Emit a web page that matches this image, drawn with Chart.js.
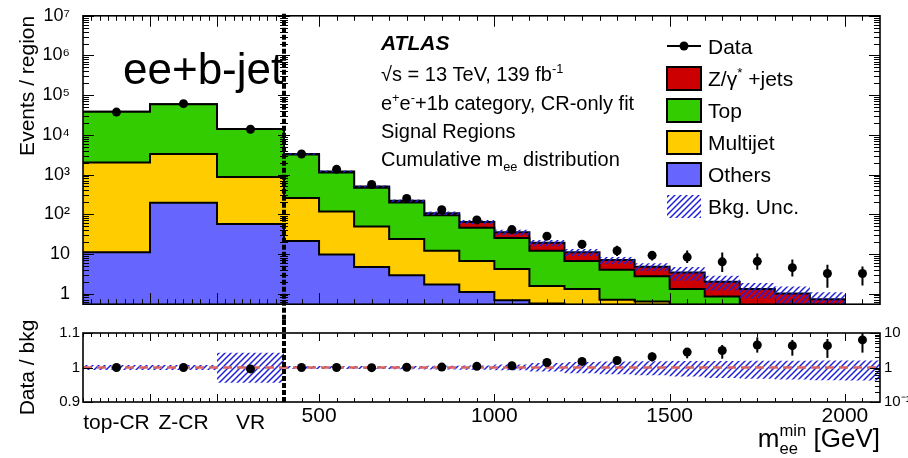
<!DOCTYPE html>
<html><head><meta charset="utf-8">
<script src="https://cdn.jsdelivr.net/npm/chart.js@4/dist/chart.umd.min.js"></script>
<style>
html,body{margin:0;padding:0;background:#fff;}
#wrap{position:relative;width:908px;height:458px;overflow:hidden;background:#fff;}
#main{position:absolute;left:0;top:0;width:908px;height:320px;}
#ratio{position:absolute;left:0;top:320px;width:908px;height:138px;}
</style></head><body>
<div id="wrap"><canvas id="main" width="908" height="320"></canvas><canvas id="ratio" width="908" height="138"></canvas></div>
<script>
// ---------------- data ----------------
const regions = ['top-CR', 'Z-CR', 'VR'];
const massEdges = [400, 500, 600, 700, 800, 900, 1000, 1100, 1200, 1300, 1400, 1500, 1600, 1700, 1800, 1900, 2000, 2100];
const massTicks = [500, 1000, 1500, 2000];

// control / validation regions (events per region)
const regionOthers   = [11, 195, 57];
const regionMultijet = [1990, 3100, 810];
const regionTop      = [36000, 55700, 13100];
const regionZjets    = [0, 0, 0];
const regionData     = [37500, 61000, 13800];

// cumulative m_ee bins 400..2000 (background)
const massOthers   = [21, 9.7, 4.7, 2.9, 1.7, 1.1, 0.68, 0.56, 0.4, 0.3, 0.2, 0.15, 0.1, 0.08, 0.06, 0.04];
const massMultijet = [236, 108, 44, 21, 10.3, 5.5, 3.5, 1.0, 0.9, 0.4, 0.43, 0.3, 0.2, 0.12, 0.09, 0.06];
const massTop      = [2940, 1010, 416, 174, 82, 39, 21, 10.4, 5.3, 3.3, 2.1, 0.85, 0.55, 0.25, 0.15, 0.1];
const massZjets    = [100, 70, 35, 20, 12, 18, 10, 7, 4.4, 3, 2.0, 2.1, 1.15, 0.85, 0.7, 0.52];
const massBkgUnc   = [0.04, 0.05, 0.06, 0.08, 0.1, 0.12, 0.16, 0.18, 0.2, 0.2, 0.22, 0.38, 0.4, 0.42, 0.5, 0.5];

// data, bins 400..2100
const massData   = [3300, 1350, 560, 250, 130, 72, 41, 28, 17.5, 12, 9.2, 8.3, 6.3, 6.5, 4.5, 3.2, 3.2];
const massDataHi = [3360, 1390, 585, 266, 142, 81, 48, 34, 22, 16, 11.8, 12.2, 10.9, 10.3, 7.2, 5.3, 4.8];
const massDataLo = [3240, 1315, 537, 235, 119, 64, 35, 23, 13.5, 8.8, 6.8, 5.9, 3.5, 4.0, 2.7, 1.4, 1.6];

// ratio panel
const regionRatio  = [1.0, 1.0, 0.996];
const regionBandHi = [1.007, 1.007, 1.043];
const regionBandLo = [0.993, 0.993, 0.956];
const massRatio   = [1.0, 1.0, 0.99, 1.02, 1.03, 1.08, 1.12, 1.4, 1.5, 1.6, 2.05, 2.8, 3.1, 4.5, 4.3, 4.3, 6.3];
const massRatioHi = [1.02, 1.03, 1.04, 1.06, 1.08, 1.12, 1.18, 1.6, 1.75, 1.97, 2.7, 3.6, 4.5, 7.5, 6.3, 6.7, 10];
const massRatioLo = [0.98, 0.97, 0.95, 0.98, 0.98, 0.98, 0.95, 1.2, 1.25, 1.3, 1.5, 1.85, 1.8, 2.7, 2.2, 1.9, 2.7];
const massBandHi = [1.1, 1.1, 1.1, 1.11, 1.12, 1.15, 1.22, 1.35, 1.45, 1.5, 1.52, 1.54, 1.55, 1.56, 1.58, 1.6, 1.6];
const massBandLo = [0.9, 0.9, 0.9, 0.89, 0.88, 0.86, 0.83, 0.76, 0.68, 0.64, 0.6, 0.55, 0.5, 0.47, 0.45, 0.43, 0.42];

// axis tick labels
const yTickValues = [1, 10, 100, 1e3, 1e4, 1e5, 1e6, 1e7];
const yTickLabels = ['1', '10', '10²', '10³', '10⁴', '10⁵', '10⁶', '10⁷'];
const rLinTicks = [0.9, 1, 1.1];
const rLinLabels = ['0.9', '1', '1.1'];
const rLogTicks = [0.1, 1, 10];
const rLogLabels = ['10⁻¹', '1', '10'];

// ---------------- layout of the combined x scale ----------------
const REGION_SPAN = 573.3;
const XMIN = massEdges[0] - REGION_SPAN;
const XMAX = massEdges[massEdges.length - 1];
const regionEdges = [0, 1, 2, 3].map(i => XMIN + i * REGION_SPAN / 3);
const regionCenters = [0, 1, 2].map(i => XMIN + (i + 0.5) * REGION_SPAN / 3);
const massCenters = massEdges.slice(0, -1).map((e, i) => (e + massEdges[i + 1]) / 2);
const YMIN = 0.54;

const FONT = '"Liberation Sans", Arial, Helvetica, sans-serif';
Chart.defaults.font.family = FONT;
Chart.defaults.color = '#000';

function histPoints(edges, vals, close) {
  const pts = vals.map((v, i) => ({x: edges[i], y: v}));
  pts.push({x: edges[vals.length], y: vals[vals.length - 1]});
  if (close) pts.push({x: edges[vals.length], y: 1e-6});
  return pts;
}
function addArr(a, b) { return a.map((v, i) => v + b[i]); }

const bkgEdges = regionEdges.slice(0, 3).concat(massEdges.slice(0, 17));
const bkgOthers = regionOthers.concat(massOthers);
const bkgMultijet = regionMultijet.concat(massMultijet);
const bkgTop = regionTop.concat(massTop);
const bkgZjets = regionZjets.concat(massZjets);
const cumOthers = bkgOthers;
const cumMulti = addArr(cumOthers, bkgMultijet);
const cumTop = addArr(cumMulti, bkgTop);
const cumTotal = addArr(cumTop, bkgZjets);
const massTotal = cumTotal.slice(3);

function makeHatch(ctx, color) {
  const c = document.createElement('canvas');
  c.width = 6; c.height = 6;
  const g = c.getContext('2d');
  g.strokeStyle = color; g.lineWidth = 1.5;
  g.beginPath();
  g.moveTo(0, 6); g.lineTo(6, 0);
  g.moveTo(-1, 1); g.lineTo(1, -1);
  g.moveTo(5, 7); g.lineTo(7, 5);
  g.stroke();
  return ctx.createPattern(c, 'repeat');
}
const mainCtx = document.getElementById('main').getContext('2d');
const ratioCtx = document.getElementById('ratio').getContext('2d');
const hatchMain = makeHatch(mainCtx, '#2020d8');
const hatchRatio = makeHatch(ratioCtx, '#2020d8');

function fnt(size, style) { return (style || '') + ' ' + size + 'px ' + FONT; }

function richText(ctx, parts, x, y, size, style) {
  let cx = x;
  for (const p of parts) {
    const t = p[0], kind = p[1] || '';
    const small = size * 0.64;
    if (kind === '^') {
      ctx.font = fnt(small, style); ctx.fillText(t, cx, y - size * 0.42); cx += ctx.measureText(t).width;
    } else if (kind === '_') {
      ctx.font = fnt(small, style); ctx.fillText(t, cx, y + size * 0.24); cx += ctx.measureText(t).width;
    } else if (kind === '^_') {
      ctx.font = fnt(small, style);
      ctx.fillText(t, cx, y - size * 0.42);
      ctx.fillText(p[2], cx, y + size * 0.26);
      cx += Math.max(ctx.measureText(t).width, ctx.measureText(p[2]).width);
    } else {
      ctx.font = fnt(size, style); ctx.fillText(t, cx, y); cx += ctx.measureText(t).width;
    }
  }
  return cx;
}
function richWidth(ctx, parts, size, style) {
  let w = 0;
  for (const p of parts) {
    const kind = p[1] || '';
    ctx.font = fnt(kind ? size * 0.64 : size, style);
    if (kind === '^_') w += Math.max(ctx.measureText(p[0]).width, ctx.measureText(p[2]).width);
    else w += ctx.measureText(p[0]).width;
  }
  return w;
}

const errorBars = {
  id: 'errorBars',
  afterDatasetsDraw(chart) {
    const ctx = chart.ctx, a = chart.chartArea;
    ctx.save();
    ctx.beginPath(); ctx.rect(a.left, a.top, a.right - a.left, a.bottom - a.top); ctx.clip();
    ctx.strokeStyle = '#000'; ctx.lineWidth = 2;
    chart.data.datasets.forEach((ds, i) => {
      if (!ds.errHi) return;
      const ys = chart.scales[chart.getDatasetMeta(i).yAxisID];
      const xs = chart.scales.x;
      ds.data.forEach((p, j) => {
        const px = xs.getPixelForValue(p.x);
        ctx.beginPath();
        ctx.moveTo(px, ys.getPixelForValue(ds.errHi[j]));
        ctx.lineTo(px, ys.getPixelForValue(ds.errLo[j]));
        ctx.stroke();
      });
    });
    ctx.restore();
  }
};

function xTickList() {
  const list = [];
  for (let i = 0; i < 3; i++) {
    for (let k = 0; k < 8; k++) {
      list.push({v: regionEdges[i] + k * (regionEdges[i + 1] - regionEdges[i]) / 8, major: k === 0 && i > 0});
    }
  }
  for (let m = massEdges[0] + 50; m < XMAX; m += 50) list.push({v: m, major: m % 500 === 0});
  return list;
}
function drawXTicks(chart, majLen, minLen) {
  const ctx = chart.ctx, a = chart.chartArea, xs = chart.scales.x;
  ctx.beginPath();
  for (const t of xTickList()) {
    const px = Math.round(xs.getPixelForValue(t.v)) + 0.5;
    const L = t.major ? majLen : minLen;
    ctx.moveTo(px, a.bottom); ctx.lineTo(px, a.bottom - L);
    ctx.moveTo(px, a.top); ctx.lineTo(px, a.top + L);
  }
  ctx.stroke();
}
function logMinorValues(lo, hi) {
  const out = [];
  for (let e = Math.floor(Math.log10(lo)); e <= Math.ceil(Math.log10(hi)); e++) {
    for (let m = 1; m <= 9; m++) {
      const v = m * Math.pow(10, e);
      if (v >= lo && v <= hi) out.push({v, major: m === 1});
    }
  }
  return out;
}
function drawYTicks(chart, scale, list, majLen, minLen, side) {
  const ctx = chart.ctx, a = chart.chartArea;
  ctx.beginPath();
  for (const t of list) {
    const py = Math.round(scale.getPixelForValue(t.v)) + 0.5;
    const L = t.major ? majLen : minLen;
    if (side !== 'right') { ctx.moveTo(a.left, py); ctx.lineTo(a.left + L, py); }
    if (side !== 'left') { ctx.moveTo(a.right, py); ctx.lineTo(a.right - L, py); }
  }
  ctx.stroke();
}
function drawDivider(chart, y0, y1, tickList, scale) {
  const ctx = chart.ctx, xs = chart.scales.x;
  const px = xs.getPixelForValue(massEdges[0]);
  ctx.save();
  ctx.strokeStyle = '#000';
  ctx.lineWidth = 4; ctx.setLineDash([5, 2]);
  ctx.beginPath(); ctx.moveTo(px, y0); ctx.lineTo(px, y1); ctx.stroke();
  ctx.setLineDash([]); ctx.lineWidth = 1;
  if (tickList) {
    ctx.beginPath();
    for (const t of tickList) {
      const py = Math.round(scale.getPixelForValue(t.v)) + 0.5;
      const L = t.major ? 6 : 4;
      ctx.moveTo(px - L, py); ctx.lineTo(px + L, py);
    }
    ctx.stroke();
  }
  ctx.restore();
}

const mainDecor = {
  id: 'mainDecor',
  afterDraw(chart) {
    const ctx = chart.ctx, a = chart.chartArea;
    ctx.save();
    ctx.strokeStyle = '#000'; ctx.lineWidth = 1;
    const yl = logMinorValues(YMIN, 1e7);
    drawYTicks(chart, chart.scales.y, yl, 11, 6);
    drawXTicks(chart, 11, 5);
    ctx.lineWidth = 1.6;
    ctx.strokeRect(a.left, a.top, a.right - a.left, a.bottom - a.top);
    ctx.restore();
    drawDivider(chart, a.top - 2, chart.height, yl, chart.scales.y);

    ctx.save();
    ctx.fillStyle = '#000';
    ctx.textBaseline = 'alphabetic';
    ctx.font = fnt(44);
    ctx.fillText('ee+b-jet', 123, 84);
    ctx.font = fnt(21, 'italic bold');
    ctx.fillText('ATLAS', 381, 50);
    richText(ctx, [['√s = 13 TeV, 139 fb'], ['-1', '^']], 381, 81, 20);
    richText(ctx, [['e'], ['+', '^'], ['e'], ['-', '^'], ['+1b category, CR-only fit']], 381, 110, 20);
    richText(ctx, [['Signal Regions']], 381, 138, 20);
    richText(ctx, [['Cumulative m'], ['ee', '_'], [' distribution']], 381, 166, 20);

    const ds = chart.data.datasets;
    const lx = 667, bw = 34, bh = 23, tx = 708;
    const items = [
      {kind: 'data', parts: [[ds[6].label]]},
      {kind: 'box', color: ds[0].backgroundColor, parts: [['Z/γ'], ['*', '^'], [' +jets']]},
      {kind: 'box', color: ds[1].backgroundColor, parts: [[ds[1].label]]},
      {kind: 'box', color: ds[2].backgroundColor, parts: [[ds[2].label]]},
      {kind: 'box', color: ds[3].backgroundColor, parts: [[ds[3].label]]},
      {kind: 'hatch', color: ds[4].backgroundColor, parts: [[ds[4].label]]}
    ];
    items.forEach((it, i) => {
      const base = 54 + 32 * i;
      if (it.kind === 'data') {
        const cy = base - 8;
        ctx.strokeStyle = '#000'; ctx.lineWidth = 2;
        ctx.beginPath(); ctx.moveTo(lx, cy); ctx.lineTo(lx + bw, cy); ctx.stroke();
        ctx.beginPath(); ctx.arc(lx + bw / 2, cy, 4.5, 0, Math.PI * 2); ctx.fill();
      } else if (it.kind === 'box') {
        ctx.fillStyle = it.color;
        ctx.fillRect(lx, base - 19, bw, bh);
        ctx.strokeStyle = '#000'; ctx.lineWidth = 2;
        ctx.strokeRect(lx, base - 19, bw, bh);
      } else {
        ctx.fillStyle = it.color;
        ctx.fillRect(lx, base - 19, bw, bh);
      }
      ctx.fillStyle = '#000';
      richText(ctx, it.parts, tx, base, 21);
    });
    ctx.restore();
  }
};

const ratioDecor = {
  id: 'ratioDecor',
  afterDraw(chart) {
    const ctx = chart.ctx, a = chart.chartArea;
    ctx.save();
    ctx.strokeStyle = '#000'; ctx.lineWidth = 1;
    drawYTicks(chart, chart.scales.yL, rLinTicks.map(v => ({v, major: true})), 10, 5, 'left');
    drawYTicks(chart, chart.scales.yR, logMinorValues(0.1, 10), 10, 5, 'right');
    drawXTicks(chart, 8, 4);
    ctx.lineWidth = 1.6;
    ctx.strokeRect(a.left, a.top, a.right - a.left, a.bottom - a.top);
    ctx.restore();
    drawDivider(chart, 0, a.bottom, null, null);

    ctx.save();
    ctx.fillStyle = '#000';
    const parts = [['m'], ['min', '^_', 'ee'], [' [GeV]']];
    const w = richWidth(ctx, parts, 26);
    richText(ctx, parts, a.right - w, 127, 26);
    ctx.restore();
  }
};

const baseOpts = {
  responsive: false,
  animation: false,
  events: [],
  plugins: {legend: {display: false}, tooltip: {enabled: false}}
};

const dataPoints = regionCenters.map((x, i) => ({x, y: regionData[i]}))
  .concat(massCenters.map((x, i) => ({x, y: massData[i]})));
const dataHi = regionData.map(v => v * 1.005).concat(massDataHi);
const dataLo = regionData.map(v => v * 0.995).concat(massDataLo);

function stackDs(label, vals, color, order) {
  return {label, data: histPoints(bkgEdges, vals, true), backgroundColor: color, borderColor: '#000',
    borderWidth: 2, fill: 'start', stepped: true, pointRadius: 0, order, borderJoinStyle: 'miter'};
}

new Chart(mainCtx, {
  type: 'line',
  data: {datasets: [
    stackDs('Z/γ*+jets', cumTotal, '#cc0000', 5),
    stackDs('Top', cumTop, '#33cc00', 4),
    stackDs('Multijet', cumMulti, '#ffcc00', 3),
    stackDs('Others', cumOthers, '#6666ff', 2),
    {label: 'Bkg. Unc.', data: histPoints(massEdges, massTotal.map((v, i) => v * (1 + massBkgUnc[i]))),
      backgroundColor: hatchMain, borderColor: 'rgba(0,0,0,0)', borderWidth: 1, fill: '+1', stepped: true, pointRadius: 0, order: 1},
    {label: 'Bkg. Unc. low', data: histPoints(massEdges, massTotal.map((v, i) => v * (1 - massBkgUnc[i]))),
      borderColor: 'rgba(0,0,0,0)', borderWidth: 1, fill: false, stepped: true, pointRadius: 0, order: 1},
    {label: 'Data', data: dataPoints, showLine: false, pointRadius: 4.5, pointBackgroundColor: '#000',
      pointBorderColor: '#000', pointBorderWidth: 0, errHi: dataHi, errLo: dataLo, order: 0}
  ]},
  options: Object.assign({}, baseOpts, {
    layout: {padding: {top: 15, right: 28, left: 0, bottom: 4}},
    scales: {
      x: {type: 'linear', min: XMIN, max: XMAX, display: false},
      y: {type: 'logarithmic', position: 'left', min: YMIN, max: 1e7,
        grid: {display: false}, border: {display: false},
        ticks: {autoSkip: false, padding: 5, font: {size: 18}, color: '#000',
          callback: (v) => { const k = yTickValues.indexOf(v); return k >= 0 ? yTickLabels[k] : ''; }},
        afterBuildTicks: (s) => { s.ticks = yTickValues.map(v => ({value: v})); },
        title: {display: true, text: 'Events / region', align: 'end', font: {size: 21}, color: '#000', padding: {top: 16, bottom: 0}},
        afterFit: (s) => { s.width = 83; }}
    }
  }),
  plugins: [errorBars, mainDecor]
});

const xTickValues = regionCenters.concat(massTicks);
const isRegionTick = (v) => regionCenters.some(c => Math.abs(c - v) < 1e-6);

new Chart(ratioCtx, {
  type: 'line',
  data: {datasets: [
    {label: 'band regions', yAxisID: 'yL', data: histPoints(regionEdges, regionBandHi), backgroundColor: hatchRatio,
      borderColor: 'rgba(0,0,0,0)', borderWidth: 1, fill: '+1', stepped: true, pointRadius: 0, order: 3},
    {label: 'band regions low', yAxisID: 'yL', data: histPoints(regionEdges, regionBandLo),
      borderColor: 'rgba(0,0,0,0)', borderWidth: 1, fill: false, stepped: true, pointRadius: 0, order: 3},
    {label: 'band mass', yAxisID: 'yR', data: histPoints(massEdges, massBandHi), backgroundColor: hatchRatio,
      borderColor: 'rgba(0,0,0,0)', borderWidth: 1, fill: '+1', stepped: true, pointRadius: 0, order: 3},
    {label: 'band mass low', yAxisID: 'yR', data: histPoints(massEdges, massBandLo),
      borderColor: 'rgba(0,0,0,0)', borderWidth: 1, fill: false, stepped: true, pointRadius: 0, order: 3},
    {label: 'unity', yAxisID: 'yR', data: [{x: XMIN, y: 1}, {x: XMAX, y: 1}], borderColor: '#dc6460',
      borderWidth: 2.5, borderDash: [9, 5], fill: false, pointRadius: 0, order: 2},
    {label: 'ratio regions', yAxisID: 'yL', data: regionCenters.map((x, i) => ({x, y: regionRatio[i]})),
      showLine: false, pointRadius: 4.5, pointBackgroundColor: '#000', pointBorderWidth: 0,
      errHi: regionRatio.map(v => v + 0.001), errLo: regionRatio.map(v => v - 0.001), order: 1},
    {label: 'ratio mass', yAxisID: 'yR', data: massCenters.map((x, i) => ({x, y: massRatio[i]})),
      showLine: false, pointRadius: 4.5, pointBackgroundColor: '#000', pointBorderWidth: 0,
      errHi: massRatioHi, errLo: massRatioLo, order: 1}
  ]},
  options: Object.assign({}, baseOpts, {
    layout: {padding: {top: 7, right: 0, left: 0, bottom: 0}},
    scales: {
      x: {type: 'linear', min: XMIN, max: XMAX, position: 'bottom',
        grid: {display: false, drawTicks: false}, border: {display: false},
        ticks: {autoSkip: false, maxRotation: 0, minRotation: 0, padding: 2, color: '#000',
          font: (c) => (c.tick && isRegionTick(c.tick.value)) ? {size: 21, lineHeight: 1.8} : {size: 21, lineHeight: 1.2},
          callback: (v) => { const k = regionCenters.findIndex(c => Math.abs(c - v) < 1e-6); return k >= 0 ? regions[k] : String(v); }},
        afterBuildTicks: (s) => { s.ticks = xTickValues.map(v => ({value: v})); },
        afterFit: (s) => { s.height = 56; }},
      yL: {type: 'linear', position: 'left', min: 0.9, max: 1.1,
        grid: {display: false, drawTicks: false}, border: {display: false},
        ticks: {autoSkip: false, padding: 3, font: {size: 15}, color: '#000',
          callback: (v) => { const k = rLinTicks.findIndex(t => Math.abs(t - v) < 1e-9); return k >= 0 ? rLinLabels[k] : ''; }},
        afterBuildTicks: (s) => { s.ticks = rLinTicks.map(v => ({value: v})); },
        title: {display: true, text: 'Data / bkg', font: {size: 21}, color: '#000', padding: {top: 16, bottom: 0}},
        afterFit: (s) => { s.width = 83; }},
      yR: {type: 'logarithmic', position: 'right', min: 0.1, max: 10,
        grid: {display: false, drawTicks: false}, border: {display: false},
        ticks: {autoSkip: false, padding: 4, font: {size: 15}, color: '#000',
          callback: (v) => { const k = rLogTicks.findIndex(t => Math.abs(t - v) < 1e-9); return k >= 0 ? rLogLabels[k] : ''; }},
        afterBuildTicks: (s) => { s.ticks = rLogTicks.map(v => ({value: v})); },
        afterFit: (s) => { s.width = 28; }}
    }
  }),
  plugins: [errorBars, ratioDecor]
});
</script>
</body></html>
